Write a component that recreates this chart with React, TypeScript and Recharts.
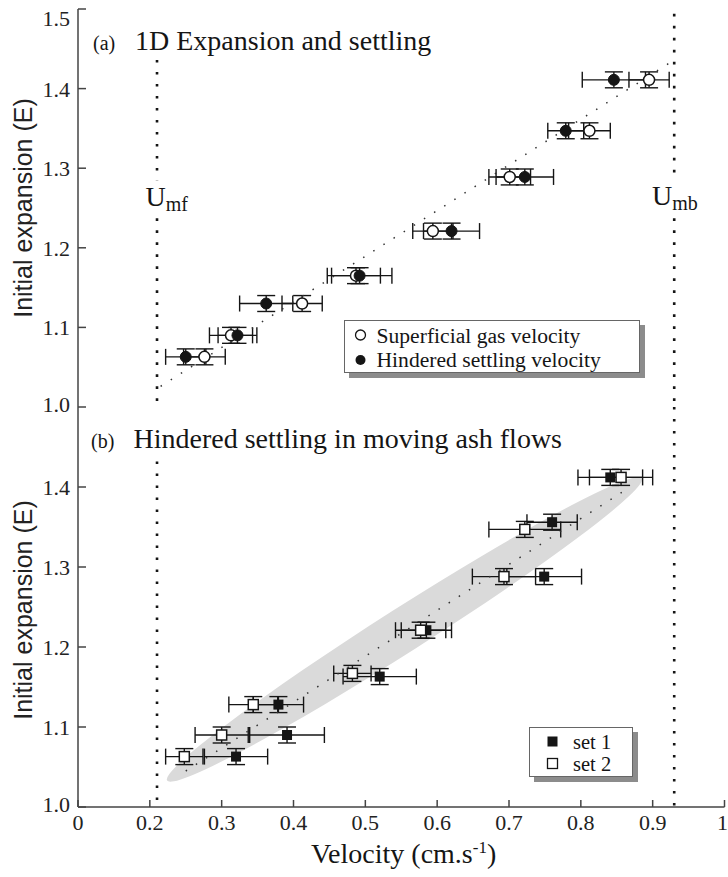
import React from "react";
import {
  ScatterChart,
  Scatter,
  XAxis,
  YAxis,
  ErrorBar,
  ReferenceLine,
  Legend,
} from "recharts";

// ─── Axis ticks
const xTicks = [0.1, 0.2, 0.3, 0.4, 0.5, 0.6, 0.7, 0.8, 0.9, 1.0];
const xTickLabels = ["0", "0.2", "0.3", "0.4", "0.5", "0.6", "0.7", "0.8", "0.9", "1"];
const yTicksTop = [1.0, 1.1, 1.2, 1.3, 1.4, 1.5];
const yTicksBottom = [1.0, 1.1, 1.2, 1.3, 1.4];

// ─── (a) 1D expansion and settling
const expansionA = [1.063, 1.09, 1.13, 1.165, 1.221, 1.289, 1.347, 1.411];
const gasVelocity = [0.276, 0.313, 0.412, 0.487, 0.594, 0.701, 0.812, 0.895];
const gasVelocityErr = [0.029, 0.03, 0.028, 0.034, 0.028, 0.029, 0.029, 0.028];
const settlingVelocity = [0.25, 0.322, 0.362, 0.492, 0.62, 0.722, 0.779, 0.846];
const settlingVelocityErr = [0.028, 0.027, 0.037, 0.045, 0.039, 0.04, 0.025, 0.044];
const fitA = [
  { x: 0.215, y: 1.026 },
  { x: 0.93, y: 1.436 },
];

// ─── (b) hindered settling in moving ash flows
const set1Velocity = [0.32, 0.391, 0.379, 0.52, 0.585, 0.749, 0.76, 0.841];
const set1Expansion = [1.063, 1.09, 1.128, 1.163, 1.221, 1.288, 1.356, 1.412];
const set1Err = [0.044, 0.052, 0.035, 0.051, 0.035, 0.052, 0.035, 0.045];
const set2Velocity = [0.248, 0.3, 0.344, 0.482, 0.577, 0.693, 0.722, 0.856];
const set2Expansion = [1.063, 1.09, 1.128, 1.167, 1.221, 1.288, 1.347, 1.412];
const set2Err = [0.026, 0.037, 0.034, 0.026, 0.035, 0.044, 0.05, 0.044];
const fitB = [
  { x: 0.25, y: 1.045 },
  { x: 0.867, y: 1.399 },
];
const ashEllipse = [
  { x: 0.224, y: 1.033 },
  { x: 0.885, y: 1.411 },
];

const expansionErr = 0.01;

// ─── Umf / Umb markers (velocity, and [from, to] expansion spans)
const U_MF = 0.21;
const U_MB = 0.93;
const umfTopSpans = [
  [1.436, 1.285],
  [1.237, 1.0],
];
const umbTopSpans = [
  [1.494, 1.285],
  [1.237, 1.0],
];
const umfBottomSpans = [[1.432, 1.0]];
const umbBottomSpans = [[1.5, 1.0]];

const legendA = ["Superficial gas velocity", "Hindered settling velocity"];
const legendB = ["set 1", "set 2"];

const toPoints = (xs: number[], ys: number[], ex: number[]) =>
  xs.map((x, i) => ({ x, y: ys[i], ex: ex[i], ey: expansionErr }));

const gasPts = toPoints(gasVelocity, expansionA, gasVelocityErr);
const settlingPts = toPoints(settlingVelocity, expansionA, settlingVelocityErr);
const set1Pts = toPoints(set1Velocity, set1Expansion, set1Err);
const set2Pts = toPoints(set2Velocity, set2Expansion, set2Err);

const SERIF = '"Liberation Serif", "Times New Roman", serif';
const SANS = '"Liberation Sans", Arial, sans-serif';
const INK = "#151515";
const AXIS = "#444";

const axisLine = { stroke: AXIS, strokeWidth: 1.5 };

// ─── Marker shapes
const Hidden = () => <g />;
const OpenCircle = ({ cx, cy }: any) => (
  <circle cx={cx} cy={cy} r={5.5} fill="#fff" stroke={INK} strokeWidth={1.5} />
);
const FilledCircle = ({ cx, cy }: any) => (
  <circle cx={cx} cy={cy} r={5.5} fill={INK} stroke={INK} strokeWidth={1} />
);
const OpenSquare = ({ cx, cy }: any) => (
  <rect x={cx - 5} y={cy - 5} width={10} height={10} fill="#fff" stroke={INK} strokeWidth={1.5} />
);
const FilledSquare = ({ cx, cy }: any) => (
  <rect x={cx - 5} y={cy - 5} width={10} height={10} fill={INK} />
);

// grey band drawn between its two tips (pixel points come from the scatter line)
const AshEllipse = ({ points }: { points?: { x: number; y: number }[] }) => {
  if (!points || points.length < 2) return null;
  const [a, b] = points;
  const cx = (a.x + b.x) / 2;
  const cy = (a.y + b.y) / 2;
  const len = Math.hypot(b.x - a.x, b.y - a.y);
  const ang = (Math.atan2(b.y - a.y, b.x - a.x) * 180) / Math.PI;
  return (
    <ellipse
      cx={cx}
      cy={cy}
      rx={len / 2}
      ry={22}
      fill="#dadada"
      transform={`rotate(${ang} ${cx} ${cy})`}
    />
  );
};

const LeftTick = ({ x, y, payload }: any) => {
  const v = payload.value as number;
  const shift = v >= 1.5 ? 9 : v <= 1.0 ? -3 : 0;
  return (
    <text
      x={x}
      y={y + shift}
      dy="0.36em"
      textAnchor="end"
      fontFamily={SERIF}
      fontSize={22}
      fill="#222"
    >
      {v.toFixed(1)}
    </text>
  );
};

const BottomTick = ({ x, y, payload }: any) => {
  const v = payload.value as number;
  const label = xTickLabels[xTicks.indexOf(v)] ?? "";
  return (
    <text
      x={v >= 1 ? x - 2 : x}
      y={y}
      dy="0.71em"
      textAnchor="middle"
      fontFamily={SERIF}
      fontSize={22}
      fill="#222"
    >
      {label}
    </text>
  );
};

// ─── Legends
const boxStyle: React.CSSProperties = {
  position: "absolute",
  inset: 0,
  background: "#fff",
  border: "1px solid #666",
  boxShadow: "5px 5px 0 #8c8c8c",
};

const LegendA = () => (
  <div style={{ width: 296, height: 53, position: "relative" }}>
    <div style={boxStyle} />
    <svg width={296} height={53} style={{ position: "absolute", left: 0, top: 0 }}>
      <circle cx={16.5} cy={15} r={5} fill="#fff" stroke={INK} strokeWidth={1.3} />
      <circle cx={16.5} cy={40} r={5} fill={INK} />
      <text x={32.5} y={22.5} fontFamily={SERIF} fontSize={21.6} fill={INK}>
        {legendA[0]}
      </text>
      <text x={32.5} y={47} fontFamily={SERIF} fontSize={21.6} fill={INK}>
        {legendA[1]}
      </text>
    </svg>
  </div>
);

const LegendB = () => (
  <div style={{ width: 104, height: 50, position: "relative" }}>
    <div style={boxStyle} />
    <svg width={104} height={50} style={{ position: "absolute", left: 0, top: 0 }}>
      <rect x={18.5} y={9.5} width={10} height={10} fill={INK} />
      <rect x={18.5} y={31.5} width={10} height={10} fill="#fff" stroke={INK} strokeWidth={1.3} />
      <text x={44} y={21.5} fontFamily={SERIF} fontSize={20.5} fill={INK}>
        {legendB[0]}
      </text>
      <text x={44} y={43.5} fontFamily={SERIF} fontSize={20.5} fill={INK}>
        {legendB[1]}
      </text>
    </svg>
  </div>
);

const uLine = (x: number, spans: number[][], key: string) =>
  spans.map((s, i) => (
    <ReferenceLine
      key={`${key}-${i}`}
      segment={[
        { x, y: s[0] },
        { x, y: s[1] },
      ]}
      stroke={INK}
      strokeWidth={2.6}
      strokeDasharray="2.6 9.4"
    />
  ));

const fitLine = { stroke: "#333", strokeWidth: 1.5, strokeDasharray: "1.5 10.5" };

export default function App() {
  return (
    <div
      style={{
        position: "absolute",
        left: 0,
        top: 0,
        width: 728,
        height: 877,
        background: "#fff",
        overflow: "hidden",
      }}
    >
      {/* (b) background band, drawn in its own chart so it sits under every mark */}
      <div style={{ position: "absolute", left: 0, top: 400 }}>
        <ScatterChart width={728} height={477} margin={{ top: 7, right: 3.5, bottom: 70, left: 78 }}>
          <XAxis type="number" dataKey="x" domain={[0.1, 1]} hide allowDataOverflow />
          <YAxis type="number" dataKey="y" domain={[1, 1.5]} hide allowDataOverflow />
          <Scatter
            data={ashEllipse}
            line={(p: any) => <AshEllipse points={p.points} />}
            shape={Hidden}
            legendType="none"
            isAnimationActive={false}
          />
        </ScatterChart>
      </div>

      {/* (a) */}
      <div style={{ position: "absolute", left: 0, top: 0 }}>
        <ScatterChart width={728} height={420} margin={{ top: 9, right: 3.5, bottom: 13, left: 0 }}>
          <XAxis
            type="number"
            dataKey="x"
            domain={[0.1, 1]}
            ticks={xTicks}
            interval={0}
            height={0}
            tick={false}
            tickSize={-6}
            axisLine={axisLine}
            tickLine={axisLine}
            allowDataOverflow
          />
          <XAxis
            xAxisId="t"
            orientation="top"
            type="number"
            domain={[0.1, 1]}
            ticks={xTicks}
            interval={0}
            height={0}
            tick={false}
            tickSize={-6}
            axisLine={axisLine}
            tickLine={axisLine}
            allowDataOverflow
          />
          <YAxis
            type="number"
            dataKey="y"
            domain={[1, 1.5]}
            ticks={yTicksTop}
            interval={0}
            width={78}
            tickSize={-8}
            tickMargin={16}
            tick={LeftTick}
            axisLine={axisLine}
            tickLine={axisLine}
            allowDataOverflow
          />
          <YAxis
            yAxisId="r"
            orientation="right"
            type="number"
            domain={[1, 1.5]}
            ticks={yTicksTop}
            interval={0}
            width={0}
            tick={false}
            tickSize={-7}
            axisLine={axisLine}
            tickLine={axisLine}
            allowDataOverflow
          />
          {uLine(U_MF, umfTopSpans, "umf")}
          {uLine(U_MB, umbTopSpans, "umb")}
          <Scatter
            data={fitA}
            line={fitLine}
            shape={Hidden}
            legendType="none"
            isAnimationActive={false}
          />
          <Scatter name={legendA[0]} data={gasPts} shape={OpenCircle} isAnimationActive={false}>
            <ErrorBar dataKey="ex" direction="x" width={8} stroke={INK} strokeWidth={1.4} />
            <ErrorBar dataKey="ey" direction="y" width={9} stroke={INK} strokeWidth={1.4} />
          </Scatter>
          <Scatter
            name={legendA[1]}
            data={settlingPts}
            shape={FilledCircle}
            isAnimationActive={false}
          >
            <ErrorBar dataKey="ex" direction="x" width={8} stroke={INK} strokeWidth={1.4} />
            <ErrorBar dataKey="ey" direction="y" width={9} stroke={INK} strokeWidth={1.4} />
          </Scatter>
          <Legend
            layout="vertical"
            align="center"
            verticalAlign="middle"
            wrapperStyle={{ left: 344, top: 320, width: 296, height: 53 }}
            content={() => <LegendA />}
          />
        </ScatterChart>
      </div>

      {/* (b) */}
      <div style={{ position: "absolute", left: 0, top: 400 }}>
        <ScatterChart width={728} height={477} margin={{ top: 7, right: 3.5, bottom: 40, left: 0 }}>
          <XAxis
            type="number"
            dataKey="x"
            domain={[0.1, 1]}
            ticks={xTicks}
            interval={0}
            height={30}
            tickSize={-7}
            tickMargin={14}
            tick={BottomTick}
            axisLine={axisLine}
            tickLine={axisLine}
            allowDataOverflow
          />
          <XAxis
            xAxisId="t"
            orientation="top"
            type="number"
            domain={[0.1, 1]}
            ticks={xTicks}
            height={0}
            tick={false}
            tickLine={false}
            axisLine={axisLine}
            allowDataOverflow
          />
          <YAxis
            type="number"
            dataKey="y"
            domain={[1, 1.5]}
            ticks={yTicksBottom}
            interval={0}
            width={78}
            tickSize={-8}
            tickMargin={16}
            tick={LeftTick}
            axisLine={axisLine}
            tickLine={axisLine}
            allowDataOverflow
          />
          <YAxis
            yAxisId="r"
            orientation="right"
            type="number"
            domain={[1, 1.5]}
            ticks={yTicksBottom}
            interval={0}
            width={0}
            tick={false}
            tickSize={-7}
            axisLine={axisLine}
            tickLine={axisLine}
            allowDataOverflow
          />
          {uLine(U_MF, umfBottomSpans, "umf")}
          {uLine(U_MB, umbBottomSpans, "umb")}
          <Scatter
            data={fitB}
            line={fitLine}
            shape={Hidden}
            legendType="none"
            isAnimationActive={false}
          />
          <Scatter name={legendB[0]} data={set1Pts} shape={FilledSquare} isAnimationActive={false}>
            <ErrorBar dataKey="ex" direction="x" width={8} stroke={INK} strokeWidth={1.4} />
            <ErrorBar dataKey="ey" direction="y" width={9} stroke={INK} strokeWidth={1.4} />
          </Scatter>
          <Scatter name={legendB[1]} data={set2Pts} shape={OpenSquare} isAnimationActive={false}>
            <ErrorBar dataKey="ex" direction="x" width={8} stroke={INK} strokeWidth={1.4} />
            <ErrorBar dataKey="ey" direction="y" width={9} stroke={INK} strokeWidth={1.4} />
          </Scatter>
          <Legend
            layout="vertical"
            align="center"
            verticalAlign="middle"
            wrapperStyle={{ left: 529, top: 327, width: 104, height: 50 }}
            content={() => <LegendB />}
          />
        </ScatterChart>
      </div>

      {/* titles and axis labels */}
      <svg
        width={728}
        height={877}
        style={{ position: "absolute", left: 0, top: 0, pointerEvents: "none" }}
      >
        <text x={93} y={50} fontFamily={SERIF} fontSize={20} fill={INK}>
          (a)
        </text>
        <text x={135} y={50} fontFamily={SERIF} fontSize={28} fill={INK}>
          1D Expansion and settling
        </text>
        <text x={91} y={448} fontFamily={SERIF} fontSize={20} fill={INK}>
          (b)
        </text>
        <text x={133.5} y={448} fontFamily={SERIF} fontSize={28} fill={INK}>
          Hindered settling in moving ash flows
        </text>

        <text x={145.5} y={206} fontFamily={SERIF} fontSize={28} fill={INK}>
          U<tspan fontSize={20} dy={5}>mf</tspan>
        </text>
        <text x={652} y={205} fontFamily={SERIF} fontSize={28} fill={INK}>
          U<tspan fontSize={20} dy={5}>mb</tspan>
        </text>

        <text
          transform="translate(32,208) rotate(-90)"
          textAnchor="middle"
          fontFamily={SANS}
          fontSize={25}
          fill="#222"
        >
          Initial expansion (E)
        </text>
        <text
          transform="translate(32,610) rotate(-90)"
          textAnchor="middle"
          fontFamily={SANS}
          fontSize={25}
          fill="#222"
        >
          Initial expansion (E)
        </text>

        <text x={311} y={863} fontFamily={SERIF} fontSize={28} fill={INK}>
          Velocity (cm.s
          <tspan fontSize={17} dy={-10}>
            -1
          </tspan>
          <tspan fontSize={28} dy={10}>
            )
          </tspan>
        </text>
      </svg>
    </div>
  );
}
